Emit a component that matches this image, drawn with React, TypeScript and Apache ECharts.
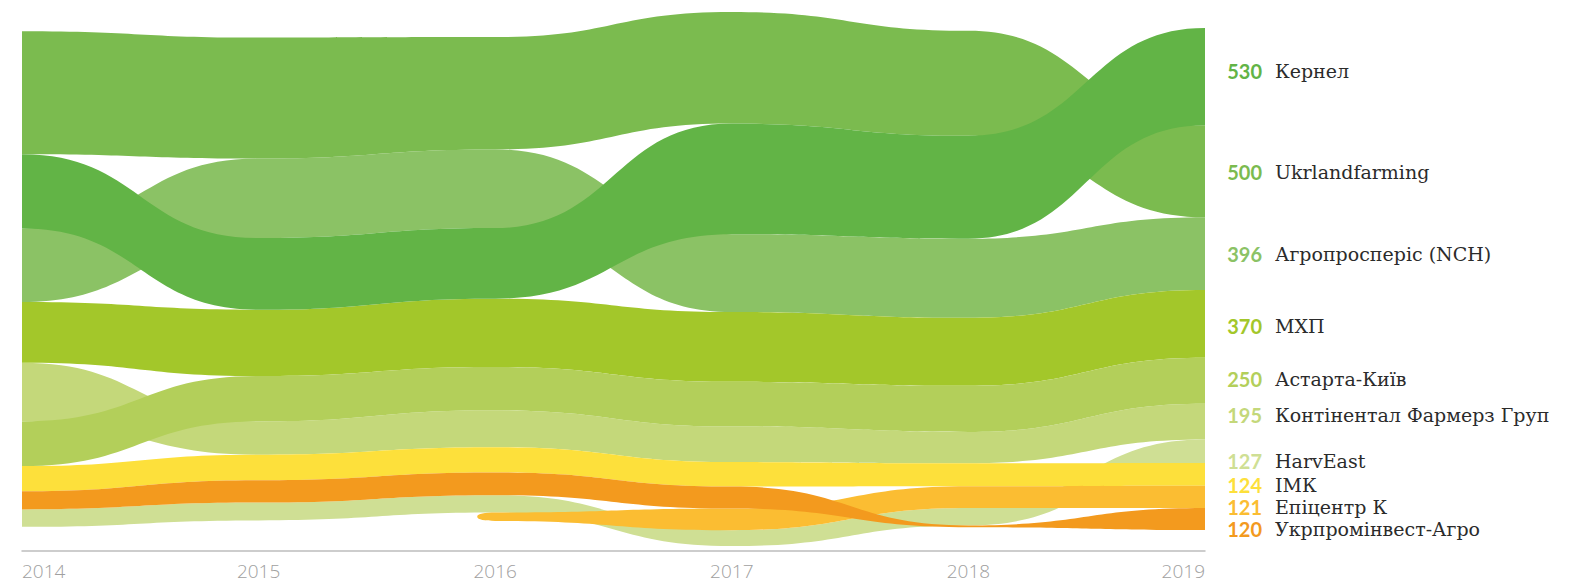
import React, { useEffect, useRef } from 'react';
import * as echarts from 'echarts';

const years = ['2014', '2015', '2016', '2017', '2018', '2019'];
const companies = [
  'Кернел',
  'Ukrlandfarming',
  'Агропросперіс (NCH)',
  'МХП',
  'Астарта-Київ',
  'Контінентал Фармерз Груп',
  'HarvEast',
  'ІМК',
  'Епіцентр К',
  'Укрпромінвест-Агро',
];
// land bank, thousand ha
const kernel = [405, 390, 384, 602, 560, 530];
const ukrlandfarming = [670, 659, 612, 608, 572, 500];
const agroprosperis = [400, 433, 428, 424, 431, 396];
const mhp = [330, 361, 372, 380, 370, 370];
const astarta = [243, 247, 236, 243, 251, 250];
const continental = [320, 181, 201, 194, 171, 195];
const harvEast = [95, 97, 95, 86, 95, 127];
const imk = [137, 139, 137, 133, 125, 124];
const epicentr: (number | null)[] = [null, null, 45, 118, 118, 121];
const ukrprominvest = [99, 122, 124, 120, 10, 120];
const latestLabels = ['530', '500', '396', '370', '250', '195', '127', '124', '121', '120'];

const values: (number | null)[][] = [
  kernel, ukrlandfarming, agroprosperis, mhp, astarta, continental, harvEast, imk, epicentr, ukrprominvest,
];
const colors = [
  '#62b446', '#7bbb4f', '#8bc265', '#a3c72a', '#b3cf5a', '#c4d87a', '#cfdf94', '#fde03b', '#fbbd32', '#f39a1e',
];
const numColors = [
  '#62b446', '#7bbb4f', '#8bc265', '#a3c72a', '#b3cf5a', '#c4d87a', '#cfdf94', '#fde03b', '#fbbd32', '#f39a1e',
];
const drawOrder = [6, 5, 2, 1, 3, 4, 0, 7, 8, 9];
const labelNudge = [-6, 1, 0, 2, -2, -7, 10, 10.5, 10.5, 10.5];

// ranked, centred stack per year
const stacks: Record<number, [number, number]>[] = years.map((_, yi) => {
  const present = companies.map((_, ci) => ci).filter((ci) => values[ci][yi] != null);
  present.sort((a, b) => (values[b][yi] as number) - (values[a][yi] as number));
  const total = present.reduce((s, ci) => s + (values[ci][yi] as number), 0);
  let acc = -total / 2;
  const res: Record<number, [number, number]> = {};
  present.forEach((ci) => {
    const v = values[ci][yi] as number;
    res[ci] = [acc, acc + v];
    acc += v;
  });
  return res;
});

function bandPath(pts: { x: number; t: number; b: number }[], capLeft: boolean) {
  let d = `M${pts[0].x},${pts[0].t}`;
  for (let k = 1; k < pts.length; k++) {
    const p = pts[k - 1], q = pts[k];
    const mx = (p.x + q.x) / 2;
    d += ` C${mx},${p.t} ${mx},${q.t} ${q.x},${q.t}`;
  }
  const last = pts[pts.length - 1];
  d += ` L${last.x},${last.b}`;
  for (let k = pts.length - 1; k > 0; k--) {
    const p = pts[k], q = pts[k - 1];
    const mx = (p.x + q.x) / 2;
    d += ` C${mx},${p.b} ${mx},${q.b} ${q.x},${q.b}`;
  }
  if (capLeft) {
    const f = pts[0];
    const ym = (f.t + f.b) / 2;
    d += ` C${f.x - 10},${f.b} ${f.x - 18},${ym + 3} ${f.x - 18},${ym} C${f.x - 18},${ym - 3} ${f.x - 10},${f.t} ${f.x},${f.t}`;
  }
  return d + ' Z';
}

export default function App() {
  const ref = useRef<HTMLDivElement>(null);
  useEffect(() => {
    if (!ref.current) return;
    const chart = echarts.init(ref.current, undefined, { renderer: 'svg' });
    chart.setOption({
      animation: false,
      backgroundColor: '#ffffff',
      grid: { left: 22, right: 379, top: 0, bottom: 34 },
      xAxis: {
        type: 'category',
        data: years,
        boundaryGap: false,
        axisLine: { onZero: false, lineStyle: { color: '#bdbdbd', width: 1.5 } },
        axisTick: { show: false },
        splitLine: { show: false },
        axisLabel: {
          color: '#a0a0a0',
          fontSize: 19,
          fontFamily: 'Open Sans',
          fontWeight: 300,
          margin: 10,
          alignMinLabel: 'left',
          alignMaxLabel: 'right',
        },
      },
      yAxis: { type: 'value', inverse: true, min: -1519, max: 1481, show: false },
      series: [
        {
          type: 'custom',
          clip: false,
          data: drawOrder.map((ci) => [0, 0, ci]),
          encode: { x: 0, y: 1 },
          renderItem: (params: any, api: any) => {
            const ci = api.value(2) as number;
            const pts: { x: number; t: number; b: number }[] = [];
            let capLeft = false;
            years.forEach((_, yi) => {
              const s = stacks[yi][ci];
              if (!s) return;
              if (pts.length === 0 && yi > 0) capLeft = true;
              const pt = api.coord([yi, s[0]]);
              const pb = api.coord([yi, s[1]]);
              pts.push({ x: pt[0], t: pt[1], b: pb[1] });
            });
            const last = years.length - 1;
            const s = stacks[last][ci];
            const pc = api.coord([last, (s[0] + s[1]) / 2]);
            const ly = pc[1] + labelNudge[ci];
            return {
              type: 'group',
              children: [
                {
                  type: 'path',
                  shape: { pathData: bandPath(pts, capLeft) },
                  style: { fill: colors[ci] },
                },
                {
                  type: 'text',
                  x: pc[0] + 57,
                  y: ly,
                  style: {
                    text: latestLabels[ci],
                    fill: numColors[ci],
                    fontFamily: 'Lato',
                    fontWeight: 'bold',
                    fontSize: 20,
                    lineHeight: 20,
                    align: 'right',
                    verticalAlign: 'middle',
                  },
                },
                {
                  type: 'text',
                  x: pc[0] + 70,
                  y: ly,
                  style: {
                    text: companies[ci],
                    fill: '#2b2b2b',
                    fontFamily: 'DejaVu Serif',
                    fontSize: 19,
                    lineHeight: 20,
                    align: 'left',
                    verticalAlign: 'middle',
                  },
                },
              ],
            };
          },
        },
      ],
    });
    return () => chart.dispose();
  }, []);
  return (
    <div
      ref={ref}
      style={{ position: 'fixed', left: 0, top: 0, width: 1584, height: 585, background: '#fff' }}
    />
  );
}
